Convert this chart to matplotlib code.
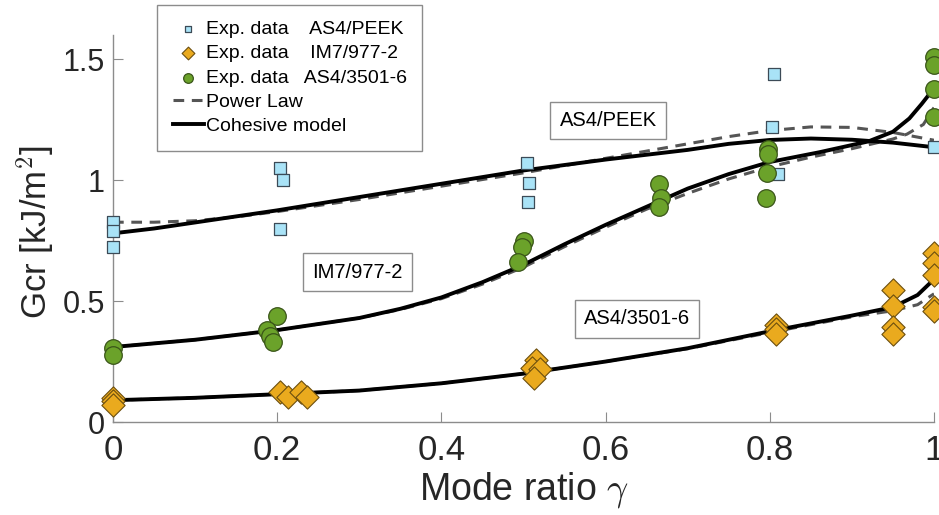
import numpy as np
import matplotlib
matplotlib.use("Agg")
import matplotlib.pyplot as plt

plt.rcParams['font.family'] = ['Liberation Sans', 'DejaVu Sans']
plt.rcParams['mathtext.fontset'] = 'cm'

# experimental data, AS4/PEEK (squares)
peek_x = [0, 0, 0, 0.203, 0.207, 0.203, 0.504, 0.507, 0.505, 0.805, 0.803, 0.81, 1.0]
peek_y = [0.826, 0.789, 0.723, 1.05, 1.0, 0.80, 1.07, 0.99, 0.91, 1.438, 1.22, 1.025, 1.136]

# experimental data, IM7/977-2 (diamonds)
im7_x = [0, 0, 0, 0.203, 0.213, 0.229, 0.236, 0.515, 0.51, 0.52, 0.513,
         0.807, 0.807, 0.807, 0.95, 0.95, 0.95, 0.95, 1.0, 1.0, 1.0, 1.0, 1.0]
im7_y = [0.10, 0.085, 0.07, 0.124, 0.103, 0.124, 0.103, 0.256, 0.223, 0.219, 0.182,
         0.40, 0.385, 0.364, 0.545, 0.48, 0.393, 0.364, 0.698, 0.656, 0.607, 0.476, 0.46]

# experimental data, AS4/3501-6 (circles)
as4_x = [0, 0, 0.2, 0.188, 0.191, 0.195, 0.5, 0.498, 0.493, 0.665, 0.667, 0.665,
         0.798, 0.798, 0.796, 0.795, 1.0, 1.0, 1.0, 1.0]
as4_y = [0.305, 0.275, 0.438, 0.38, 0.355, 0.33, 0.748, 0.723, 0.662, 0.983, 0.925, 0.888,
         1.128, 1.107, 1.03, 0.926, 1.508, 1.475, 1.376, 1.26]

# model curves
coh_peek_x = [0, 0.05, 0.1, 0.15, 0.2, 0.3, 0.4, 0.5, 0.6, 0.65, 0.7, 0.75, 0.8, 0.85, 0.9, 0.95, 1.0]
coh_peek_y = [0.78, 0.80, 0.825, 0.85, 0.875, 0.93, 0.985, 1.04, 1.085, 1.105, 1.125, 1.15, 1.166,
              1.172, 1.167, 1.155, 1.136]
pow_peek_x = [0, 0.05, 0.1, 0.15, 0.2, 0.3, 0.4, 0.5, 0.6, 0.7, 0.75, 0.8, 0.85, 0.9, 0.95, 1.0]
pow_peek_y = [0.826, 0.826, 0.832, 0.848, 0.87, 0.92, 0.975, 1.03, 1.09, 1.15, 1.18, 1.205,
              1.22, 1.218, 1.197, 1.165]

coh_as4_x = [0, 0.1, 0.2, 0.3, 0.35, 0.4, 0.45, 0.5, 0.55, 0.6, 0.65, 0.7, 0.75, 0.8, 0.86, 0.92,
             0.95, 0.97, 0.985, 1.0]
coh_as4_y = [0.31, 0.34, 0.38, 0.43, 0.468, 0.515, 0.578, 0.65, 0.735, 0.815, 0.89, 0.965, 1.025,
             1.075, 1.115, 1.16, 1.2, 1.255, 1.315, 1.38]
pow_as4_x = [0, 0.1, 0.2, 0.3, 0.35, 0.4, 0.45, 0.5, 0.55, 0.6, 0.65, 0.7, 0.75, 0.8, 0.85, 0.9,
             0.95, 0.967, 0.987, 1.0]
pow_as4_y = [0.31, 0.34, 0.38, 0.43, 0.465, 0.51, 0.57, 0.64, 0.725, 0.805, 0.88, 0.945, 1.005,
             1.055, 1.095, 1.13, 1.17, 1.19, 1.23, 1.30]

coh_im7_x = [0, 0.1, 0.2, 0.3, 0.4, 0.5, 0.6, 0.7, 0.8, 0.9, 0.95, 0.98, 1.0]
coh_im7_y = [0.09, 0.1, 0.115, 0.13, 0.16, 0.2, 0.25, 0.305, 0.375, 0.44, 0.475, 0.525, 0.59]
pow_im7_x = [0, 0.1, 0.2, 0.3, 0.4, 0.5, 0.6, 0.7, 0.8, 0.9, 0.95, 0.98, 1.0]
pow_im7_y = [0.09, 0.1, 0.115, 0.13, 0.16, 0.2, 0.25, 0.303, 0.37, 0.435, 0.46, 0.485, 0.53]

fig = plt.figure(figsize=(9.39, 5.15), dpi=100)
ax = fig.add_axes([113 / 939, 93 / 515, 821 / 939, 387 / 515])

dash = dict(color='#555555', lw=2.2, ls=(0, (3.5, 2.5)))
solid = dict(color='black', lw=2.8)

ax.plot(pow_peek_x, pow_peek_y, **dash, label='Power Law')
ax.plot(pow_as4_x, pow_as4_y, **dash)
ax.plot(pow_im7_x, pow_im7_y, **dash)
ax.plot(coh_peek_x, coh_peek_y, **solid, label='Cohesive model')
ax.plot(coh_as4_x, coh_as4_y, **solid)
ax.plot(coh_im7_x, coh_im7_y, **solid)

ax.scatter(peek_x, peek_y, marker='s', s=80, c='#a9e3f7', edgecolors='#3c4b57',
           linewidths=0.9, zorder=5, clip_on=False, label='Exp. data    AS4/PEEK')
ax.scatter(im7_x, im7_y, marker='D', s=140, c='#eaaa1e', edgecolors='#6b4f0f',
           linewidths=0.8, zorder=5, clip_on=False, label='Exp. data    IM7/977-2')
ax.scatter(as4_x, as4_y, marker='o', s=160, c='#6ba22a', edgecolors='#3a5519',
           linewidths=0.9, zorder=5, clip_on=False, label='Exp. data   AS4/3501-6')

ax.set_xlim(0, 1)
ax.set_ylim(0, 1.6)
ax.set_xticks([0, 0.2, 0.4, 0.6, 0.8, 1])
ax.set_xticklabels(['0', '0.2', '0.4', '0.6', '0.8', '1'])
ax.set_yticks([0, 0.5, 1, 1.5])
ax.set_yticklabels(['0', '0.5', '1', '1.5'])
for s in ['top', 'right']:
    ax.spines[s].set_visible(False)
for s in ['left', 'bottom']:
    ax.spines[s].set_color('#8c8c8c')
    ax.spines[s].set_linewidth(1.0)
ax.tick_params(direction='in', length=7, color='#8c8c8c', labelcolor='#262626')
ax.tick_params(axis='y', labelsize=22, pad=6)
ax.tick_params(axis='x', labelsize=25, pad=9)

ax.set_xlabel(r'Mode ratio $\gamma$', fontsize=27, color='#262626', labelpad=2)
ax.set_ylabel(r'Gcr [kJ/m$^2$]', fontsize=25, color='#262626')
ax.yaxis.set_label_coords(-0.07, 0.49)

box = dict(boxstyle='square,pad=0.45', fc='white', ec='#8c8c8c', lw=1)
ax.text(0.603, 1.248, 'AS4/PEEK', fontsize=14.5, ha='center', va='center', bbox=box, zorder=6)
ax.text(0.298, 0.62, 'IM7/977-2', fontsize=14.5, ha='center', va='center', bbox=box, zorder=6)
ax.text(0.638, 0.426, 'AS4/3501-6', fontsize=14.5, ha='center', va='center', bbox=box, zorder=6)

# legend order as in the figure: data first, then the two models
handles, labels = ax.get_legend_handles_labels()
order = [labels.index(l) for l in ['Exp. data    AS4/PEEK', 'Exp. data    IM7/977-2',
                                   'Exp. data   AS4/3501-6', 'Power Law', 'Cohesive model']]
leg = fig.legend([handles[i] for i in order], [labels[i] for i in order],
                 loc='upper left', bbox_to_anchor=(157 / 939, 1 - 5 / 515),
                 fontsize=14, frameon=True, fancybox=False, edgecolor='#8c8c8c',
                 framealpha=1, handlelength=1.6, handletextpad=0.1, labelspacing=0.34,
                 borderpad=0.8, borderaxespad=0, markerscale=0.55)
leg.get_frame().set_linewidth(1.0)

fig.savefig('out.png', dpi=100)
